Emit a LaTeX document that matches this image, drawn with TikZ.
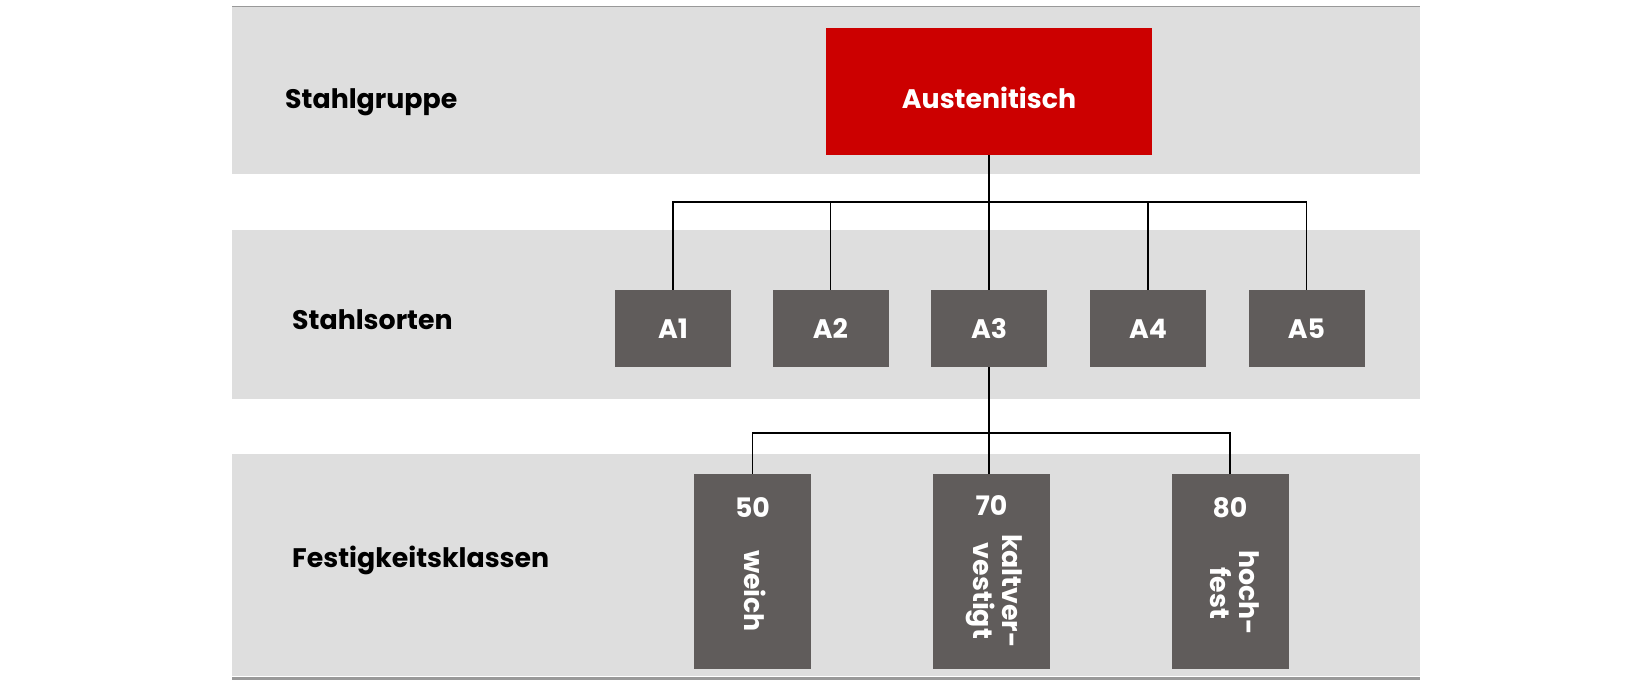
\documentclass[tikz,border=0pt]{standalone}
\usepackage{fontspec}
\setmainfont{Poppins}
\definecolor{bandgray}{HTML}{DEDEDE}
\definecolor{boxgray}{HTML}{605C5B}
\definecolor{austred}{HTML}{CC0000}
\definecolor{rulegray}{HTML}{999999}
\begin{document}
\begin{tikzpicture}[x=1pt,y=-1pt,
  txt/.style={font=\bfseries\fontsize{26.8}{29}\selectfont},
  lbl/.style={txt, text=black, anchor=base west, inner sep=0pt},
  redbox/.style={fill=austred, minimum width=326pt, minimum height=127pt, inner sep=0pt, txt, text=white, text height=34pt, text depth=0pt},
  sortbox/.style={fill=boxgray, minimum width=116pt, minimum height=77pt, inner sep=0pt, txt, text=white, text height=19pt, text depth=0pt},
  klbox/.style={fill=boxgray, minimum width=117pt, minimum height=195pt, inner sep=0pt},
  num/.style={txt, text=white, anchor=base, inner sep=0pt},
  rottxt/.style={txt, text=white, rotate=-90, align=center, inner sep=0pt},
  conn/.style={line width=1.8pt, black},
  band/.style={fill=bandgray},
  rule/.style={draw=rulegray}
]
\useasboundingbox (0,0) rectangle (1626,698);
% bands
\fill[band] (232,7.5) rectangle (1420,174);
\fill[band] (232,230) rectangle (1420,399);
\fill[band] (232,454) rectangle (1420,676);
\draw[rule, line width=1.5pt] (232,6.5) -- (1420,6.5);
\draw[rule, line width=3pt] (232,678) -- (1420,678);
% row labels
\node[lbl] (lg) at (285,109) {Stahlgruppe};
\node[lbl] (ls) at (292,329) {Stahlsorten};
\node[lbl] (lf) at (292,567) {Festigkeitsklassen};
% top box
\node[redbox] (aust) at (989,91.5) {Austenitisch};
% steel grades
\node[sortbox] (A1) at (673,328.5) {A1};
\node[sortbox] (A2) at (830.5,328.5) {A2};
\node[sortbox] (A3) at (989,328.5) {A3};
\node[sortbox] (A4) at (1148,328.5) {A4};
\node[sortbox] (A5) at (1306.5,328.5) {A5};
% strength classes
\node[klbox] (B50) at (752.5,571.5) {};
\node[klbox] (B70) at (991.5,571.5) {};
\node[klbox] (B80) at (1230,571.5) {};
\node[num] (n50) at (752.5,517) {50};
\node[num] (n70) at (991.5,515) {70};
\node[num] (n80) at (1230,517) {80};
\node[rottxt] (t50) at (755,591) {weich};
\node[rottxt] (t70) at (994,591) {kaltver-\\vestigt};
\node[rottxt] (t80) at (1235,593) {hoch-\\fest};
% connectors
\coordinate (j1) at (989,202);
\coordinate (j2) at (989,433);
\draw[conn] (aust.south) -- (aust.south |- j1);
\draw[conn] (A1.north) -- (A1.north |- j1) -- (A5.north |- j1) -- (A5.north);
\draw[conn] (A2.north) -- (A2.north |- j1);
\draw[conn] (A3.north) -- (A3.north |- j1);
\draw[conn] (A4.north) -- (A4.north |- j1);
\draw[conn] (A3.south) -- (A3.south |- B70.north);
\draw[conn] (B50.north) -- (B50.north |- j2) -- (B80.north |- j2) -- (B80.north);
\end{tikzpicture}
\end{document}
